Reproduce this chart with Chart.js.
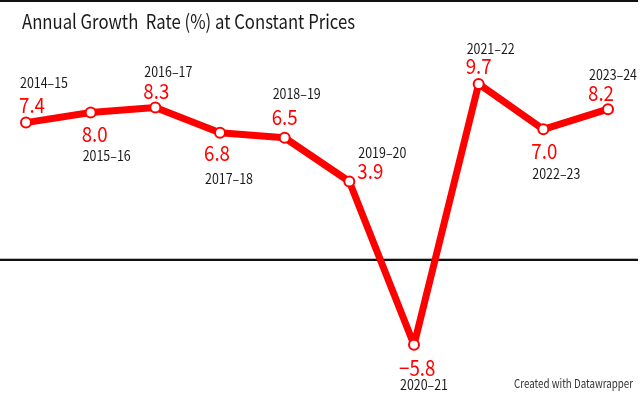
<!DOCTYPE html>
<html>
<head>
<meta charset="utf-8">
<script src="https://cdn.jsdelivr.net/npm/chart.js@4"></script>
<style>
  html, body { margin: 0; padding: 0; background: #fff; }
  #wrap { position: relative; width: 640px; height: 410px; }
  canvas { display: block; }
</style>
</head>
<body>
<div id="wrap"><canvas id="c" width="640" height="410"></canvas></div>
<script>
// ---- data ----
const categories = ["2014–15","2015–16","2016–17","2017–18","2018–19","2019–20","2020–21","2021–22","2022–23","2023–24"];
const growthRate = [7.4, 8.0, 8.3, 6.8, 6.5, 3.9, -5.8, 9.7, 7.0, 8.2];
const referenceLineValue = -0.7;   // the black horizontal rule
const titleText = "Annual Growth  Rate (%) at Constant Prices";
const footerText = "Created with Datawrapper";

// ---- label placement (layout only) ----
const labelPlacement = [
  { dx: -7,  valueDy: -18, yearDy: -40 },
  { dx: -9,  valueDy: 22,  yearDy: 43 },
  { dx: -12, valueDy: -16, yearDy: -36 },
  { dx: -16, valueDy: 20,  yearDy: 46 },
  { dx: -13, valueDy: -21, yearDy: -44 },
  { dx: 8,   valueDy: -11, yearDy: -29 },
  { dx: -15, valueDy: 23,  yearDy: 40 },
  { dx: -13, valueDy: -18, yearDy: -35 },
  { dx: -12, valueDy: 22,  yearDy: 44 },
  { dx: -20, valueDy: -16, yearDy: -34 }
];

const FONT = '"Noto Sans CJK KR", "Noto Sans", sans-serif';
const RED = '#ff0000';

function drawScaledText(ctx, text, x, y, font, color, targetWidth, baseline) {
  ctx.save();
  ctx.font = font;
  ctx.fillStyle = color;
  ctx.textBaseline = baseline || 'alphabetic';
  ctx.textAlign = 'left';
  const w = ctx.measureText(text).width;
  const s = targetWidth ? targetWidth / w : 1;
  ctx.translate(x, y);
  ctx.scale(s, 1);
  ctx.fillText(text, 0, 0);
  ctx.restore();
}

const decorPlugin = {
  id: 'decor',
  beforeDatasetsDraw(chart) {
    const ctx = chart.ctx;
    const y = chart.scales.y.getPixelForValue(referenceLineValue);
    ctx.save();
    ctx.fillStyle = '#bbbbbb';
    ctx.fillRect(0, Math.round(y) - 1, 638, 1);
    ctx.fillStyle = '#111111';
    ctx.fillRect(0, Math.round(y), 638, 2);
    ctx.restore();
  },
  afterDraw(chart) {
    const ctx = chart.ctx;
    // top rule
    ctx.save();
    ctx.fillStyle = '#111111';
    ctx.fillRect(0, 0, 638, 2);
    ctx.restore();
    // title
    drawScaledText(ctx, titleText, 22, 28.5, '20px ' + FONT, '#1a1a1a', 333);
    // footer
    drawScaledText(ctx, footerText, 514, 383.5, '12px ' + FONT, '#333333', 119, 'middle');
    // point labels
    const meta = chart.getDatasetMeta(0);
    ctx.save();
    ctx.font = '14px ' + FONT;
    const yearScale = 48 / ctx.measureText(categories[0]).width;
    ctx.font = '21px ' + FONT;
    const valScale = 26 / ctx.measureText('7.4').width;
    ctx.restore();
    meta.data.forEach((pt, i) => {
      const p = labelPlacement[i];
      const vText = growthRate[i].toFixed(1).replace('-', '−');
      ctx.save();
      ctx.font = '21px ' + FONT;
      ctx.fillStyle = RED;
      ctx.textBaseline = 'middle';
      ctx.translate(pt.x + p.dx, pt.y + p.valueDy);
      ctx.scale(valScale, 1);
      ctx.fillText(vText, 0, 0);
      ctx.restore();
      ctx.save();
      ctx.font = '14px ' + FONT;
      ctx.fillStyle = '#1a1a1a';
      ctx.textBaseline = 'middle';
      ctx.translate(pt.x + p.dx + 1, pt.y + p.yearDy);
      ctx.scale(yearScale, 1);
      ctx.fillText(categories[i], 0, 0);
      ctx.restore();
    });
  }
};

new Chart(document.getElementById('c'), {
  type: 'line',
  data: {
    labels: categories,
    datasets: [{
      data: growthRate,
      borderColor: RED,
      borderWidth: 7,
      pointRadius: 5,
      pointBorderWidth: 2,
      pointBackgroundColor: '#ffffff',
      pointBorderColor: RED,
      tension: 0,
      borderJoinStyle: 'round',
      borderCapStyle: 'round'
    }]
  },
  options: {
    responsive: false,
    animation: false,
    events: [],
    layout: { padding: { left: 26, right: 32, top: 62, bottom: 45 } },
    plugins: { legend: { display: false }, tooltip: { enabled: false }, title: { display: false } },
    scales: {
      x: { type: 'category', display: false, offset: false },
      y: { display: false, min: -7, max: 11 }
    }
  },
  plugins: [decorPlugin]
});
</script>
</body>
</html>
